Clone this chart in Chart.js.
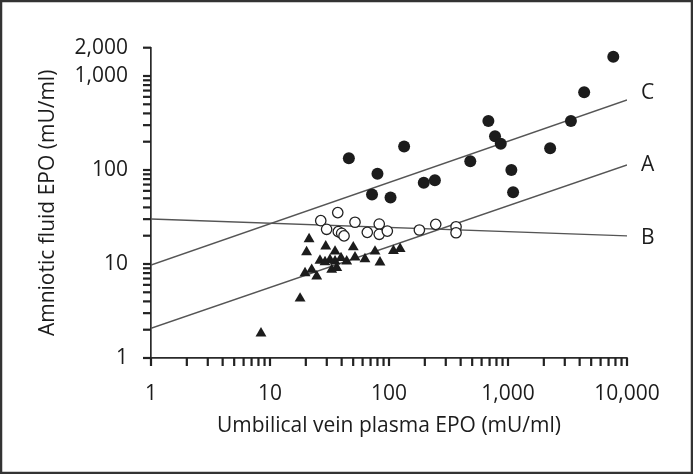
<!DOCTYPE html>
<html>
<head>
<meta charset="utf-8">
<script src="https://cdn.jsdelivr.net/npm/chart.js@4.4.1/dist/chart.umd.min.js"></script>
<style>
  html, body { margin: 0; padding: 0; background: #fff; }
  canvas { display: block; }
</style>
</head>
<body>
<canvas id="epo-chart" width="693" height="474"></canvas>
<script>
// filled circles
const filledX = [46, 80, 72, 103, 134, 196, 243, 482, 684, 778, 869, 1067, 1104, 2260, 3378, 4365, 7670];
const filledY = [133, 91, 55, 51, 178, 73, 78, 124, 333, 228, 190, 100, 58, 170, 333, 671, 1603];
// open circles
const openX = [37.1, 26.7, 29.9, 37.5, 40, 41.9, 51.8, 65.7, 82.8, 82.8, 96.8, 180, 247, 366, 366];
const openY = [35.2, 28.9, 23.4, 22.1, 21.2, 19.9, 27.8, 21.7, 26.6, 20.7, 22.4, 23, 26.4, 24.9, 21.5];
// triangles
const triX = [21.3, 20.3, 29.4, 35.2, 50.1, 76.3, 109, 124, 84, 62.8, 51.8, 44.1, 35.2, 31.9, 26.3, 29, 39.5, 33, 36.4, 22.4, 19.7, 24.7, 17.9, 8.4];
const triY = [18.4, 13.4, 15.4, 13.6, 15.1, 13.6, 13.8, 14.5, 10.4, 11.3, 11.8, 10.7, 10.7, 11.1, 10.9, 10.5, 11.6, 8.7, 9.1, 8.7, 8.0, 7.4, 4.3, 1.83];
// regression lines, values at x = 1 and x = 10,000
const lineX = [1, 10000];
const lineC = [9.76, 556];
const lineA = [2.07, 113];
const lineB = [30.1, 19.9];
const lineNames = ['C', 'A', 'B'];

const xTicks = [1,2,3,4,5,6,7,8,9,10,20,30,40,50,60,70,80,90,100,200,300,400,500,600,700,800,900,1000,2000,3000,4000,5000,6000,7000,8000,9000,10000];
const xLabels = [1, 10, 100, 1000, 10000];
const yTicks = [1,2,3,4,5,6,7,8,9,10,20,30,40,50,60,70,80,90,100,200,300,400,500,600,700,800,900,1000,2000];
const yLabels = [1, 10, 100, 1000, 2000];

const ink = '#1c1c1c';
const axisColor = '#2a2a2a';
const tickLen = 8;
const font = { family: "'Open Sans', sans-serif", size: 21 };

const pts = (xs, ys) => xs.map((x, i) => ({ x: x, y: ys[i] }));

// outer tick marks, placed from the scales' own pixel mapping
const tickMarks = {
  id: 'tickMarks',
  afterDraw(chart) {
    const ctx = chart.ctx;
    const area = chart.chartArea;
    const x = chart.scales.x, y = chart.scales.y;
    ctx.save();
    ctx.fillStyle = '#222';
    x.ticks.forEach(t => {
      const px = x.getPixelForValue(t.value);
      ctx.fillRect(px - 1.1, area.bottom, 2.2, tickLen);
    });
    y.ticks.forEach(t => {
      const py = y.getPixelForValue(t.value);
      ctx.fillRect(area.left - tickLen, py - 1.1, tickLen, 2.2);
    });
    ctx.restore();
  }
};

const lineLabels = {
  id: 'lineLabels',
  afterDatasetsDraw(chart) {
    const ctx = chart.ctx;
    const dy = [-7, 0, 2];
    ctx.save();
    ctx.font = "21px 'Open Sans', sans-serif";
    ctx.fillStyle = ink;
    ctx.textAlign = 'left';
    ctx.textBaseline = 'middle';
    [3, 4, 5].forEach((di, i) => {
      const el = chart.getDatasetMeta(di).data[1];
      ctx.fillText(lineNames[i], el.x + 14, el.y + dy[i]);
    });
    ctx.restore();
  }
};

const frame = {
  id: 'frame',
  beforeDraw(chart) {
    const ctx = chart.ctx;
    ctx.save();
    ctx.fillStyle = '#fff';
    ctx.fillRect(0, 0, chart.width, chart.height);
    ctx.restore();
  },
  afterDraw(chart) {
    const ctx = chart.ctx;
    ctx.save();
    ctx.strokeStyle = '#333';
    ctx.lineWidth = 2.5;
    ctx.strokeRect(1, 1, chart.width - 2, chart.height - 2);
    ctx.restore();
  }
};

const lineStyle = {
  type: 'line',
  borderColor: '#555',
  borderWidth: 1.4,
  pointRadius: 0,
  fill: false,
  tension: 0
};

// tick length kept so the labels sit at the right distance; the marks come from tickMarks
const gridOpts = {
  drawOnChartArea: false,
  tickLength: tickLen,
  color: axisColor,
  lineWidth: 1.7,
  tickColor: 'rgba(0,0,0,0)'
};

new Chart(document.getElementById('epo-chart'), {
  type: 'scatter',
  data: {
    datasets: [
      { data: pts(filledX, filledY), pointStyle: 'circle', pointRadius: 6, backgroundColor: ink, borderColor: ink, borderWidth: 0 },
      { data: pts(openX, openY), pointStyle: 'circle', pointRadius: 5.2, backgroundColor: '#fff', borderColor: '#222', borderWidth: 1.3 },
      { data: pts(triX, triY), pointStyle: 'triangle', pointRadius: 6.3, backgroundColor: ink, borderColor: ink, borderWidth: 0 },
      Object.assign({ data: pts(lineX, lineC) }, lineStyle),
      Object.assign({ data: pts(lineX, lineA) }, lineStyle),
      Object.assign({ data: pts(lineX, lineB) }, lineStyle)
    ]
  },
  options: {
    responsive: false,
    animation: false,
    devicePixelRatio: 1,
    layout: { padding: { left: 35, top: 47.7, right: 66, bottom: 35 } },
    plugins: { legend: { display: false }, tooltip: { enabled: false } },
    scales: {
      x: {
        type: 'logarithmic',
        min: 1,
        max: 10000,
        afterBuildTicks: s => { s.ticks = xTicks.map(v => ({ value: v })); },
        afterFit: s => { s.height = 81; },
        ticks: {
          autoSkip: false,
          maxRotation: 0,
          padding: 15,
          color: ink,
          font: font,
          callback: v => xLabels.includes(v) ? v.toLocaleString('en-US') : ''
        },
        grid: gridOpts,
        border: { color: axisColor, width: 1.7 },
        title: { display: true, text: 'Umbilical vein plasma EPO (mU/ml)', color: ink, font: font, padding: 0 }
      },
      y: {
        type: 'logarithmic',
        min: 1,
        max: 2000,
        afterBuildTicks: s => { s.ticks = yTicks.map(v => ({ value: v })); },
        afterFit: s => { s.width = 116; },
        ticks: {
          autoSkip: false,
          padding: 15,
          color: ink,
          font: font,
          callback: v => yLabels.includes(v) ? v.toLocaleString('en-US') : ''
        },
        grid: gridOpts,
        border: { color: axisColor, width: 1.7 },
        title: { display: true, text: 'Amniotic fluid EPO (mU/ml)', color: ink, font: font, padding: 0 }
      }
    }
  },
  plugins: [frame, tickMarks, lineLabels]
});
</script>
</body>
</html>
